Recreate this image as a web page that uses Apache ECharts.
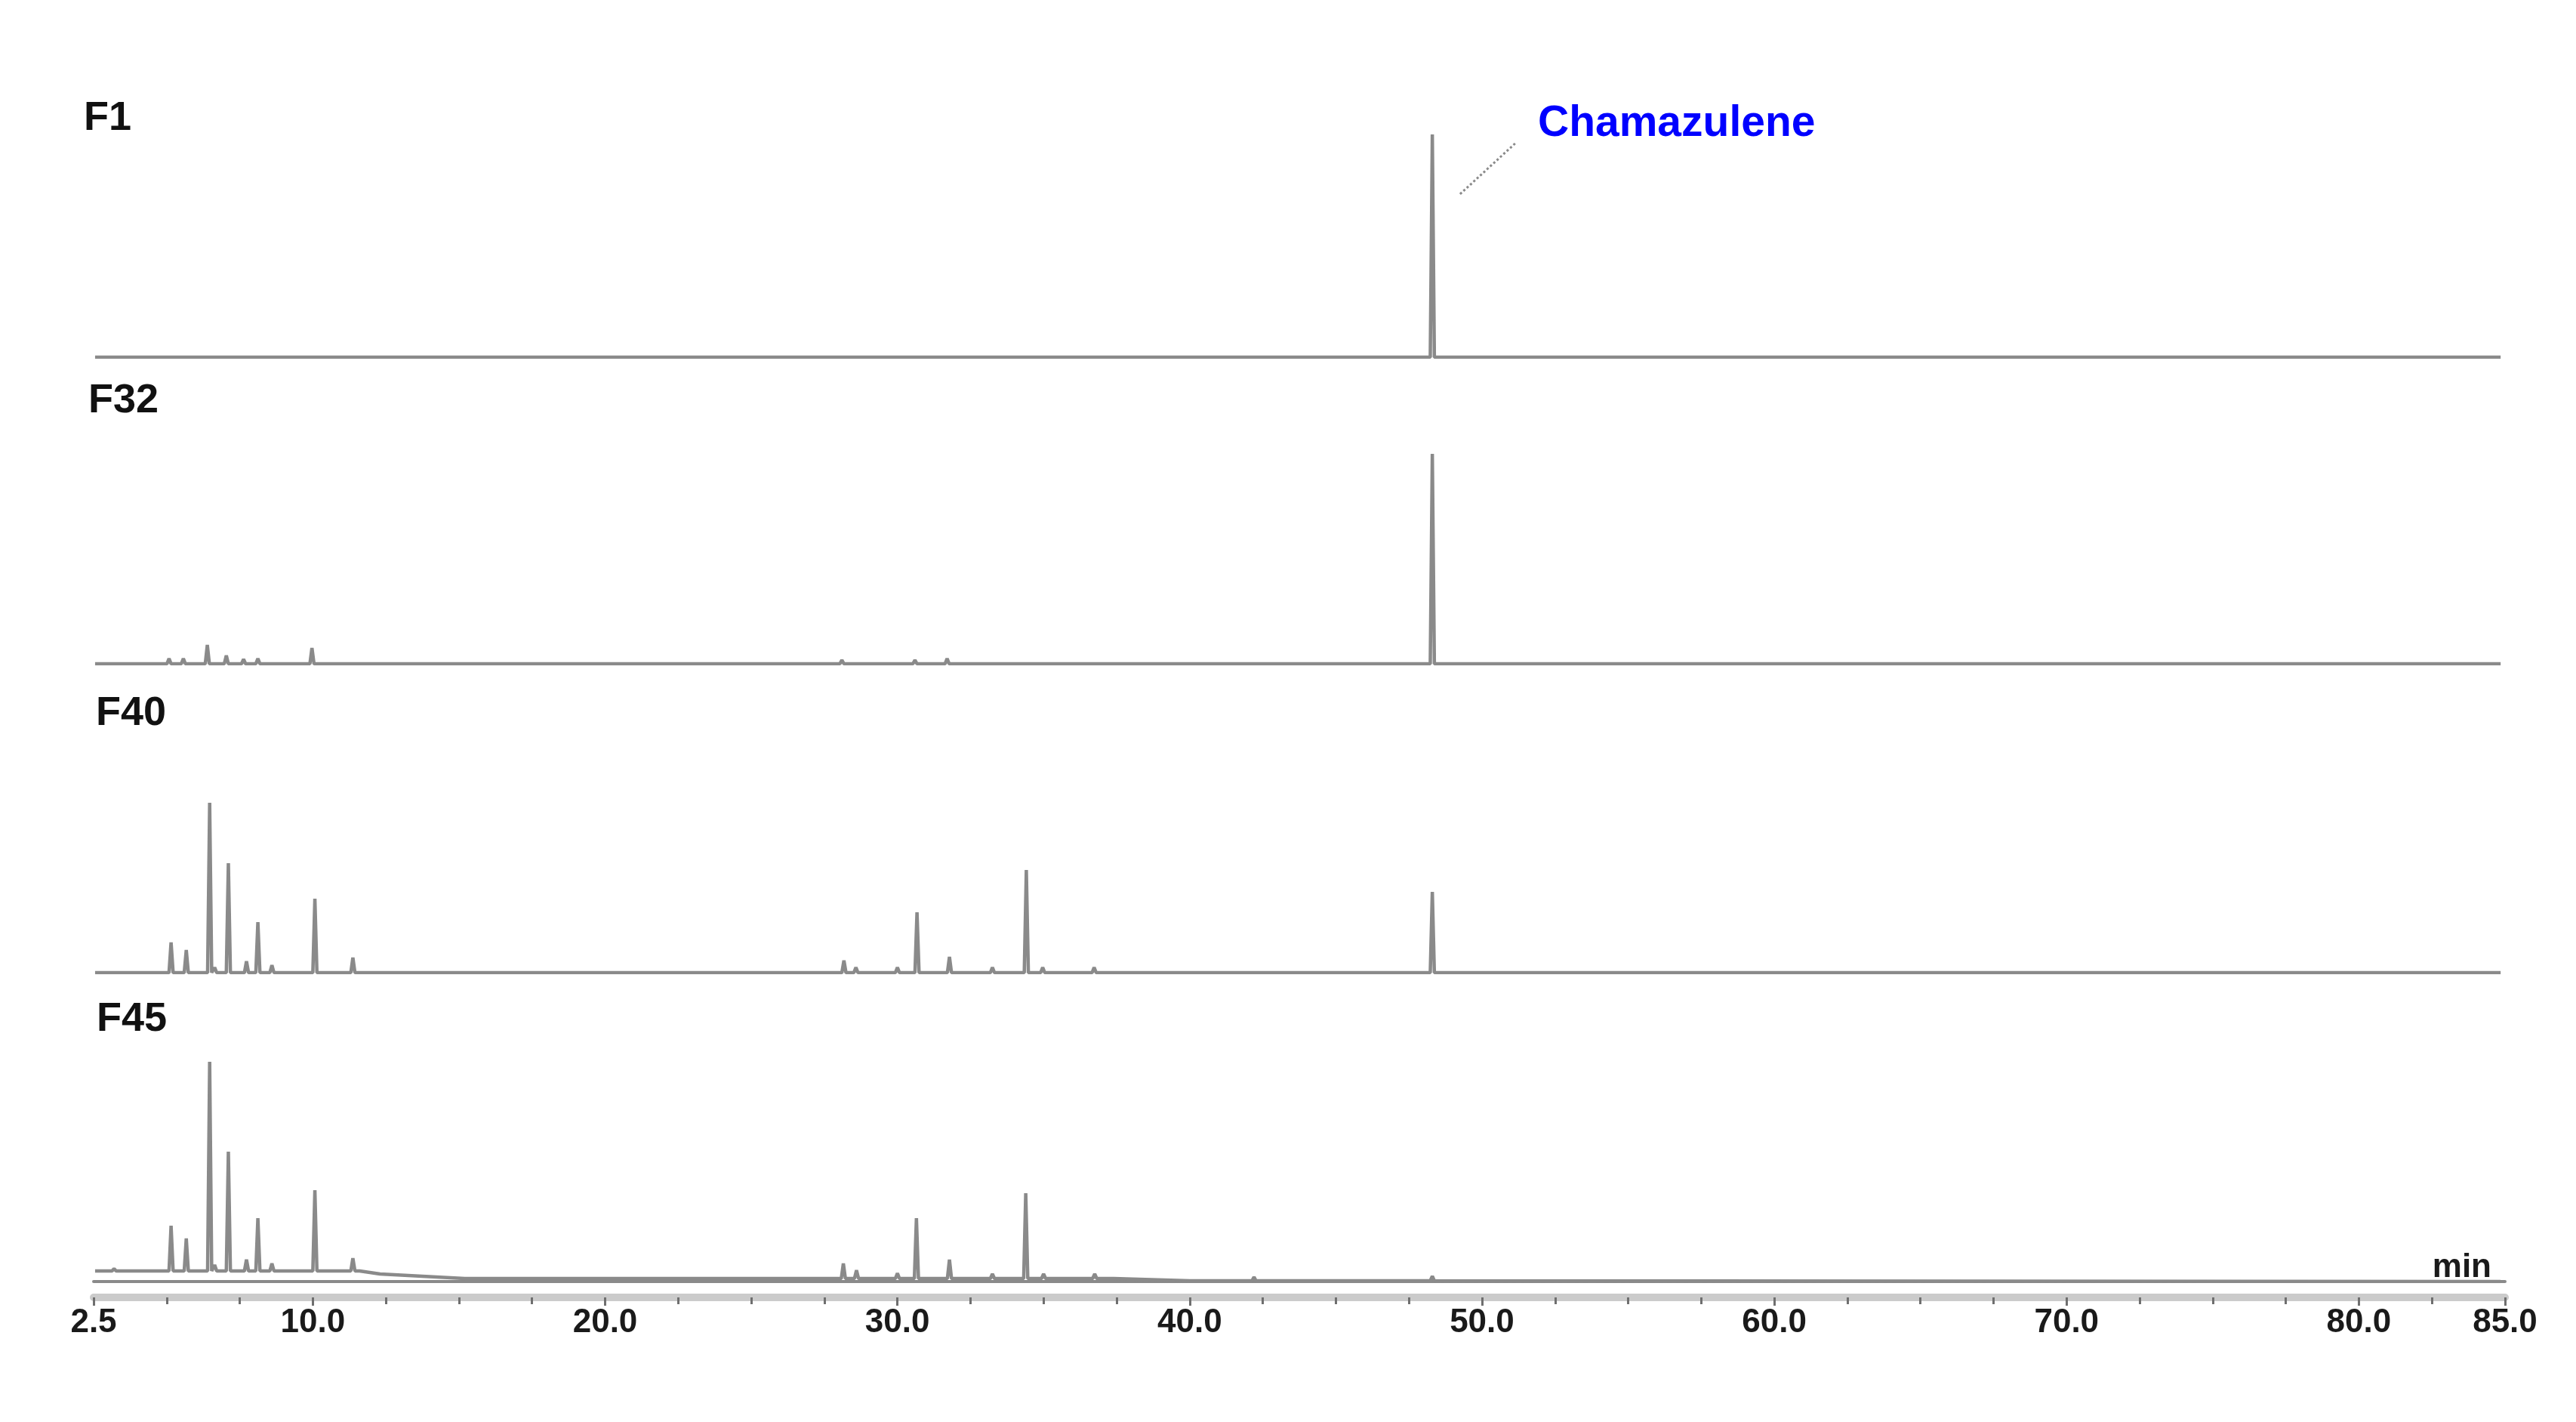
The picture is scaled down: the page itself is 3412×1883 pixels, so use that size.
<!DOCTYPE html>
<html>
<head>
<meta charset="utf-8">
<title>Chromatograms F1 / F32 / F40 / F45</title>
<script src="https://cdn.jsdelivr.net/npm/echarts@6/dist/echarts.min.js"></script>
<style>
  html, body { margin: 0; padding: 0; background: #ffffff; }
  #chart { width: 3412px; height: 1883px; }
</style>
</head>
<body>
<div id="chart"></div>
<script>
// retention time axis (min)
const timeStart = 2.5;
const timeEnd = 85;
const tickStep = 2.5;
const tickLabels = [2.5, 10, 20, 30, 40, 50, 60, 70, 80, 85];

const sampleNames = ['F1', 'F32', 'F40', 'F45'];

// peaks: retention time (min) and height (detector units)
const f1Times = [48.3];
const f1Heights = [295];

const f32Times = [5.08, 5.57, 6.39, 7.04, 7.63, 8.12, 9.97, 28.1, 30.6, 31.7, 48.3];
const f32Heights = [7, 7, 25, 11, 6, 7, 21, 5, 5, 7, 278];

const f40Times = [5.15, 5.67, 6.47, 6.64, 7.11, 7.73, 8.12, 8.6, 10.07, 11.37, 28.17, 28.58, 30.0, 30.67, 31.78, 33.25, 34.41, 34.97, 36.73, 48.3];
const f40Heights = [40, 30, 225, 7, 145, 15, 67, 10, 98, 20, 16, 7, 7, 80, 21, 7, 136, 7, 7, 107];

const f45Times = [3.2, 5.15, 5.67, 6.47, 6.64, 7.11, 7.73, 8.12, 8.6, 10.07, 11.37, 28.15, 28.6, 30.0, 30.65, 31.78, 33.25, 34.39, 35.0, 36.75, 42.2, 48.3];
const f45Heights = [3, 60, 43, 277, 8, 158, 15, 70, 10, 107, 17, 20, 11, 7, 80, 25, 6, 113, 6, 6, 5, 6];

// baselines [time, level]; F45 drifts down after ~11 min
const flatBaseline = [[2.55, 0], [84.85, 0]];
const f45Baseline = [[2.55, 14], [11.6, 14], [12.3, 10], [15.2, 4], [37.4, 4], [40.0, 1], [84.85, 0]];

const peakHalfWidth = 0.07;

// panel layout (px)
const panelTops = [93, 579, 988, 1397];
const panelHeights = [380, 300, 300, 300];
const plotLeft = 124;
const plotRight = 94;

const traceColor = '#8a8a8a';
const labelFont = '"Liberation Sans", Arial, sans-serif';

function buildTrace(times, heights, baseline) {
  const pts = baseline.map(p => [p[0], p[1]]);
  times.forEach((t, i) => {
    let foot = baseline[0][1];
    baseline.forEach(b => { if (b[0] <= t) foot = b[1]; });
    pts.push([t - peakHalfWidth, foot], [t, foot + heights[i]], [t + peakHalfWidth, foot]);
  });
  return pts.sort((a, b) => a[0] - b[0]);
}

const traces = [
  buildTrace(f1Times, f1Heights, flatBaseline),
  buildTrace(f32Times, f32Heights, flatBaseline),
  buildTrace(f40Times, f40Heights, flatBaseline),
  buildTrace(f45Times, f45Heights, f45Baseline)
];

const grids = panelTops.map((top, i) => ({
  left: plotLeft, right: plotRight, top: top, height: panelHeights[i]
}));

const hiddenX = [0, 1, 2].map(i => ({
  type: 'value', gridIndex: i, min: timeStart, max: timeEnd, show: false
}));

const bottomX = [
  {
    // dark axis line + labels
    type: 'value', gridIndex: 3, min: timeStart, max: timeEnd, interval: tickStep,
    position: 'bottom', offset: 14,
    axisLine: { show: true, lineStyle: { color: '#8a8a8a', width: 4 } },
    axisTick: { show: false },
    splitLine: { show: false },
    axisLabel: {
      show: true,
      customValues: tickLabels,
      formatter: v => v.toFixed(1),
      margin: 19,
      color: '#1a1a1a',
      fontSize: 44,
      fontWeight: 'bold',
      fontFamily: labelFont
    }
  },
  {
    // light band with minor ticks every 2.5 min
    type: 'value', gridIndex: 3, min: timeStart, max: timeEnd, interval: tickStep,
    position: 'bottom', offset: 21,
    axisLine: { show: true, lineStyle: { color: '#cbcbcb', width: 10 } },
    axisTick: { show: true, length: 9, lineStyle: { color: '#6f6f6f', width: 3 } },
    axisLabel: { show: false },
    splitLine: { show: false }
  },
  {
    // longer ticks at labelled values
    type: 'value', gridIndex: 3, min: timeStart, max: timeEnd,
    position: 'bottom', offset: 21,
    axisLine: { show: false },
    axisTick: { show: true, customValues: tickLabels, length: 11, lineStyle: { color: '#6f6f6f', width: 3 } },
    axisLabel: { show: false },
    splitLine: { show: false }
  }
];

const yAxes = panelHeights.map((h, i) => ({
  type: 'value', gridIndex: i, min: 0, max: h, show: false
}));

const series = traces.map((data, i) => ({
  name: sampleNames[i],
  type: 'line',
  xAxisIndex: i,
  yAxisIndex: i,
  data: data,
  showSymbol: false,
  sampling: 'none',
  silent: true,
  lineStyle: { color: traceColor, width: 4.5, join: 'bevel' }
}));

// Chamazulene leader line (F1 panel)
series[0].markLine = {
  silent: true,
  symbol: ['none', 'none'],
  label: { show: false },
  lineStyle: { type: 'dotted', color: '#8a8a8a', width: 3 },
  data: [[{ coord: [49.25, 216] }, { coord: [51.16, 284] }]]
};

const sampleLabelPos = [[111, 157], [117, 531], [127, 945], [128, 1350]];

const graphics = sampleNames.map((name, i) => ({
  type: 'text',
  x: sampleLabelPos[i][0],
  y: sampleLabelPos[i][1],
  style: {
    text: name,
    font: 'bold 54px ' + labelFont,
    fill: '#111111',
    align: 'left',
    verticalAlign: 'middle'
  }
}));

graphics.push({
  type: 'text', x: 2037, y: 164,
  style: {
    text: 'Chamazulene',
    font: 'bold 57px ' + labelFont,
    fill: '#0000ff',
    align: 'left',
    verticalAlign: 'middle'
  }
});

graphics.push({
  type: 'text', x: 3300, y: 1679,
  style: {
    text: 'min',
    font: 'bold 44px ' + labelFont,
    fill: '#1a1a1a',
    align: 'right',
    verticalAlign: 'middle'
  }
});

const chart = echarts.init(document.getElementById('chart'), null, { renderer: 'canvas' });
chart.setOption({
  backgroundColor: '#ffffff',
  animation: false,
  grid: grids,
  xAxis: hiddenX.concat(bottomX),
  yAxis: yAxes,
  series: series,
  graphic: graphics
});
</script>
</body>
</html>
